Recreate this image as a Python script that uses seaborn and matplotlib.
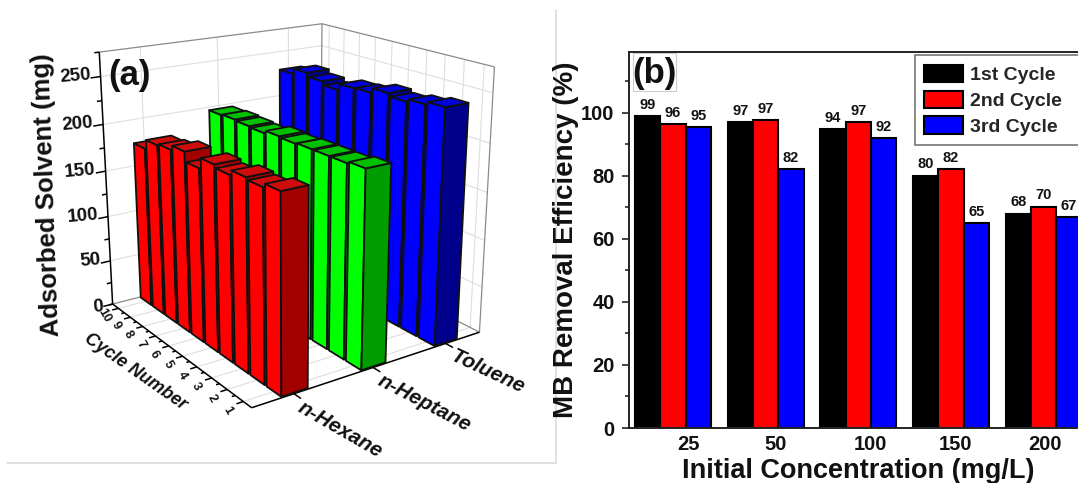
import numpy as np
import pandas as pd
import matplotlib
matplotlib.use('Agg')
import matplotlib.pyplot as plt
import seaborn as sns
from matplotlib.patches import Polygon, Rectangle
from matplotlib.ticker import MultipleLocator

# panel (a) values, cycle 1 to 10
cycle_numbers = [1, 2, 3, 4, 5, 6, 7, 8, 9, 10]
solvents = ['n-Hexane', 'n-Heptane', 'Toluene']
hexane = [197, 193, 195, 190, 193, 182, 192, 187, 185, 175]
heptane = [201, 199, 199, 199, 198, 199, 196, 197, 198, 197]
toluene = [244, 241, 238, 241, 236, 235, 228, 232, 236, 230]

# panel (b) values
concentrations = ['25', '50', '100', '150', '200']
cycle_1st = [99, 97, 94.7, 80, 68]
cycle_2nd = [96.3, 97.5, 97, 82, 70.2]
cycle_3rd = [95.5, 82, 92, 65, 66.8]
labels_1st = ['99', '97', '94', '80', '68']
labels_2nd = ['96', '97', '97', '82', '70']
labels_3rd = ['95', '82', '92', '65', '67']

W, H = 1078, 483
sns.set_style('white')
plt.rcParams['font.family'] = ['Liberation Sans', 'DejaVu Sans']
plt.rcParams['font.weight'] = 'bold'
plt.rcParams['axes.labelweight'] = 'bold'
fig = plt.figure(figsize=(W / 100, H / 100), dpi=100)

# whole-figure axes in pixels, panel (a) lives here
ax0 = fig.add_axes([0, 0, 1, 1])
ax0.set_xlim(0, W)
ax0.set_ylim(H, 0)
ax0.axis('off')

# camera for the 3d box, fitted on the box corners seen in the picture
ZMAX = 275
box = [((0, 0, 0), (252, 407)), ((1, 0, 0), (113, 305)), ((0, 1, 0), (480, 333)),
       ((1, 1, 0), (319, 250)), ((0, 0, 1), (247.5, 108)), ((1, 0, 1), (99, 52)),
       ((0, 1, 1), (494, 67)), ((1, 1, 1), (323, 24))]
rows = []
for (a, b, c), (px, py) in box:
    rows.append([a, b, c, 1, 0, 0, 0, 0, -px * a, -px * b, -px * c, -px])
    rows.append([0, 0, 0, 0, a, b, c, 1, -py * a, -py * b, -py * c, -py])
cam = np.linalg.svd(np.array(rows))[2][-1].reshape(3, 4)


def proj(cycle, cat, z):
    # cycle 0.5..10.5, cat -0.5..2.5, z in mg
    q = cam @ np.array([(cycle - 0.5) / 10, (cat + 0.5) / 3, z / ZMAX, 1])
    return q[0] / q[2], q[1] / q[2]


def line3(p, q, **kw):
    a, b = proj(*p), proj(*q)
    ax0.plot([a[0], b[0]], [a[1], b[1]], solid_capstyle='butt', **kw)


# grid on walls and floor
grid = dict(color='#dedede', lw=0.8, zorder=1)
for z in range(50, 251, 50):
    line3((10.5, -0.5, z), (10.5, 2.5, z), **grid)
    line3((10.5, 2.5, z), (0.5, 2.5, z), **grid)
for c in cycle_numbers:
    line3((c, -0.5, 0), (c, 2.5, 0), **grid)
    line3((c, 2.5, 0), (c, 2.5, ZMAX), **grid)
for k in range(3):
    line3((0.5, k, 0), (10.5, k, 0), **grid)
    line3((10.5, k, 0), (10.5, k, ZMAX), **grid)

# box frame
frame = dict(color='#8a8a8a', lw=0.9, zorder=2)
line3((10.5, -0.5, ZMAX), (10.5, 2.5, ZMAX), **frame)
line3((10.5, 2.5, ZMAX), (0.5, 2.5, ZMAX), **frame)
line3((0.5, 2.5, ZMAX), (0.5, 2.5, 0), **frame)
line3((10.5, 2.5, ZMAX), (10.5, 2.5, 0), **frame)
line3((10.5, -0.5, 0), (10.5, 2.5, 0), **frame)
line3((10.5, 2.5, 0), (0.5, 2.5, 0), **frame)

# black axes and ticks
axis = dict(color='black', lw=1.1, zorder=3)
line3((10.5, -0.5, 0), (10.5, -0.5, ZMAX), **axis)
line3((10.5, -0.5, 0), (0.5, -0.5, 0), **axis)
line3((0.5, -0.5, 0), (0.5, 2.5, 0), **axis)
for z in range(0, 276, 25):
    line3((10.5, -0.5, z), (10.5, -0.5 - (0.12 if z % 50 == 0 else 0.06), z), **axis)
for z in range(0, 251, 50):
    px, py = proj(10.5, -0.5, z)
    ax0.text(px - 9, py + (3 if z == 0 else 0), str(z), ha='right', va='center', fontsize=13.5,
             rotation=5, color='#111111')
for c in cycle_numbers:
    line3((c, -0.5, 0), (c, -0.58, 0), **axis)
    line3((c + 0.5, -0.5, 0), (c + 0.5, -0.54, 0), **axis)
    px, py = proj(c, -0.68, 0)
    ax0.text(px, py + 4, str(c), ha='center', va='center', fontsize=9, rotation=-60, color='#111111')
for k, name in enumerate(solvents):
    line3((0.5, k, 0), (0.1, k, 0), **axis)
    px, py = proj(-0.3, k, 0)
    ax0.text(px - 9, py + 3, name, ha='left', va='center', fontsize=15, style='italic', color='#111111',
             rotation=-30 + 2.5 * k, rotation_mode='anchor')

# the bars, back to front
colours = [('#ff0000', '#a30000', '#cf0c0c'), ('#00ff00', '#009c00', '#00c000'), ('#0000ff', '#00008c', '#0000d8')]
series = [hexane, heptane, toluene]
BW = 0.16
BD = 0.44
for k in [2, 1, 0]:
    side, front, top = colours[k]
    for i in range(9, -1, -1):
        c, v = cycle_numbers[i], series[k][i]
        c0, c1 = c - BD, c + BD
        k0, k1 = k - BW + 0.02, k + BW + 0.02
        faces = [([(c0, k0, 0), (c1, k0, 0), (c1, k0, v), (c0, k0, v)], side),
                 ([(c0, k0, 0), (c0, k1, 0), (c0, k1, v), (c0, k0, v)], front),
                 ([(c0, k0, v), (c1, k0, v), (c1, k1, v), (c0, k1, v)], top)]
        for pts, col in faces:
            ax0.add_patch(Polygon([proj(*p) for p in pts], closed=True, facecolor=col,
                                  edgecolor='#101010', lw=1.3, joinstyle='round', zorder=4))

ax0.text(130, 76, '(a)', ha='center', va='center', fontsize=25, zorder=6, color='#111111')
ax0.text(47.5, 195, 'Adsorbed Solvent (mg)', ha='center', va='center', rotation=92, fontsize=18.5, color='#111111')
ax0.text(135, 372, 'Cycle Number', ha='center', va='center', rotation=-35, fontsize=13, style='italic',
         color='#111111')

# grey panel border
ax0.plot([7, 556, 556], [463, 463, 10], color='#dcdcdc', lw=1.2)

# panel (b)
ax = fig.add_axes([628.5 / W, (H - 428) / H, (W - 628.5) / W, (428 - 52) / H])
df = pd.DataFrame({
    'conc': concentrations * 3,
    'eff': cycle_1st + cycle_2nd + cycle_3rd,
    'cycle': ['1st Cycle'] * 5 + ['2nd Cycle'] * 5 + ['3rd Cycle'] * 5,
})
sns.barplot(data=df, x='conc', y='eff', hue='cycle', palette=['black', '#ff0000', '#0000ff'], saturation=1,
            width=0.822, gap=0, edgecolor='black', linewidth=1.5, errorbar=None, ax=ax)
for cont, txt in zip(ax.containers, [labels_1st, labels_2nd, labels_3rd]):
    ax.bar_label(cont, labels=txt, padding=3, fontsize=10.5, color='#111111')
ax.set_xlim(-0.479, 4.37)
ax.set_ylim(0, 119.2)
ax.set_xticks([0.163, 1.108, 2.126, 3.05, 4.014])
ax.set_xticklabels(concentrations, fontsize=14.5, color='#111111')
ax.tick_params(axis='x', length=0, pad=5)
ax.yaxis.set_major_locator(MultipleLocator(20))
ax.yaxis.set_minor_locator(MultipleLocator(10))
ax.set_yticks(range(0, 101, 20))
ax.tick_params(axis='y', which='major', left=True, length=5, width=1.2, labelsize=14.5, pad=5, labelcolor='#111111')
ax.tick_params(axis='y', which='minor', left=True, length=3, width=1.2)
for name in ['left', 'top', 'bottom']:
    ax.spines[name].set_visible(True)
    ax.spines[name].set_linewidth(1.4)
    ax.spines[name].set_color('#222222')
ax.spines['right'].set_visible(False)
ax.set_xlabel('Initial Concentration (mg/L)', fontsize=19.5, color='#111111')
ax.xaxis.set_label_coords((858.5 - 628.5) / (W - 628.5), -(471 - 428) / (428 - 52), transform=ax.transAxes)
ax.xaxis.label.set_va('center')
ax.set_ylabel('MB Removal Efficiency (%)', fontsize=20, color='#111111')
ax.yaxis.set_label_coords(-(628.5 - 566) / (W - 628.5), (428 - 240) / (428 - 52), transform=ax.transAxes)
ax.yaxis.label.set_va('center')

ax.get_legend().remove()
handles = [Rectangle((0, 0), 1, 1, facecolor=f, edgecolor='black', lw=1.5) for f in ['black', '#ff0000', '#0000ff']]
leg = fig.legend(handles, ['1st Cycle', '2nd Cycle', '3rd Cycle'], loc='upper left',
                 bbox_to_anchor=(914.6 / W, (H - 146) / H, 180 / W, 91 / H), mode='expand', borderaxespad=0,
                 fancybox=False, edgecolor='#777777', framealpha=1, prop={'size': 14, 'weight': 'bold'},
                 handlelength=2.0, handleheight=1.0, handletextpad=0.34, labelspacing=0.33, borderpad=0.5)
leg.get_frame().set_linewidth(1.2)

ax.text(654.4, 73, '(b)', transform=ax0.transData, ha='center', va='center', fontsize=25, color='#111111', zorder=7)
ax0.add_patch(Rectangle((633, 53), 43, 38, fill=False, edgecolor='#cccccc', lw=0.8, zorder=0))
ax.patch.set_alpha(0)

fig.savefig('out.png', dpi=100)
